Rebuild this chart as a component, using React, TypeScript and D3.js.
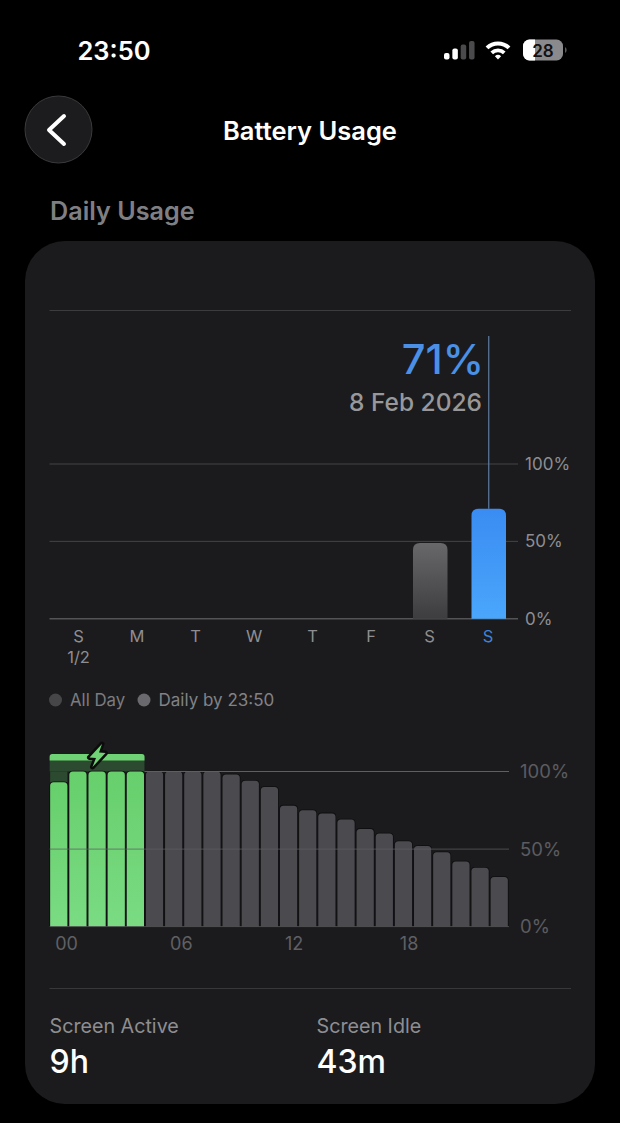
import React from "react";
import * as d3 from "d3";

const dayLabels = ["S", "M", "T", "W", "T", "F", "S", "S"];
const dayValues = [0, 0, 0, 0, 0, 0, 49, 71];
const hourValues = [93, 100, 100, 100, 100, 100, 100, 100, 100, 98, 94, 90, 78, 75, 73, 69, 63, 60, 55, 52, 48, 42, 38, 32];
const hourTicks = [0, 6, 12, 18];
const hourTickLabels = ["00", "06", "12", "18"];
const chargingHours = [0, 1, 2, 3, 4];
const percentTicks = [0, 50, 100];
const signalHeights = [6.5, 11, 15, 18.5];

const FONT = "Inter, 'Noto Sans', sans-serif";

function topRounded(x: number, y: number, w: number, h: number, r: number) {
  const p = d3.path();
  p.moveTo(x, y + h);
  p.lineTo(x, y + r);
  p.quadraticCurveTo(x, y, x + r, y);
  p.lineTo(x + w - r, y);
  p.quadraticCurveTo(x + w, y, x + w, y + r);
  p.lineTo(x + w, y + h);
  p.closePath();
  return p.toString();
}

export default function App() {
  const dayX = d3.scaleBand<number>().domain(d3.range(8)).range([50, 518]).paddingInner(0.41).paddingOuter(0.205);
  const dayY = d3.scaleLinear().domain([0, 100]).range([618.7, 464]);
  const hourX = d3.scaleBand<number>().domain(d3.range(24)).range([49.2, 508.8]).paddingInner(0.1).paddingOuter(0.05);
  const hourY = d3.scaleLinear().domain([0, 100]).range([926.7, 771.5]);
  const wifi = d3.arc();
  const chargeX0 = hourX(chargingHours[0])! - 0.5;
  const chargeX1 = hourX(chargingHours[chargingHours.length - 1])! + hourX.bandwidth() + 0.5;

  return (
    <svg width={620} height={1123} viewBox="0 0 620 1123" style={{ position: "fixed", left: 0, top: 0, fontFamily: FONT }}>
      <defs>
        <linearGradient id="blue" x1="0" y1="0" x2="0" y2="1">
          <stop offset="0" stopColor="#3a8cf2" />
          <stop offset="1" stopColor="#4aa6fb" />
        </linearGradient>
        <linearGradient id="gray" x1="0" y1="0" x2="0" y2="1">
          <stop offset="0" stopColor="#68686b" />
          <stop offset="1" stopColor="#3d3d40" />
        </linearGradient>
        <linearGradient id="green" x1="0" y1="0" x2="0" y2="1">
          <stop offset="0" stopColor="#67cf6c" />
          <stop offset="1" stopColor="#7adb83" />
        </linearGradient>
      </defs>
      <rect width={620} height={1123} fill="#000" />

      {/* status bar */}
      <text x={114} y={60} textAnchor="middle" fontSize={25.5} fontWeight={600} fill="#fff">23:50</text>
      {signalHeights.map((h, i) => (
        <rect key={i} x={444 + i * 8.35} y={59.5 - h} width={5.5} height={h} rx={2}
          fill={i < 2 ? "#fff" : "#4a4a4c"} />
      ))}
      <g transform="translate(498,59.5)" fill="#fff">
        {[[0, 4.5], [7.2, 11], [14, 18]].map(([a, b]) => (
          <path key={a} d={wifi({ innerRadius: a, outerRadius: b, startAngle: -0.76, endAngle: 0.76 } as any) as string} />
        ))}
      </g>
      <rect x={523} y={39.5} width={40} height={21} rx={6.5} fill="#8a8a8c" />
      <path d="M529.5 39.5 H535 V60.5 H529.5 A6.5 6.5 0 0 1 523 54 V46 A6.5 6.5 0 0 1 529.5 39.5 Z" fill="#fff" />
      <path d="M565 47 A3.5 3.5 0 0 1 565 53 Z" fill="#5a5a5c" />
      <text x={543} y={56.5} textAnchor="middle" fontSize={17} fontWeight={600} fill="#111">28</text>

      {/* nav */}
      <circle cx={58.5} cy={129.5} r={33.5} fill="#1c1c1e" stroke="#3a3a3c" strokeWidth={1} />
      <path d="M64 116 L49 130 L64 144" fill="none" stroke="#fff" strokeWidth={4} strokeLinecap="round" strokeLinejoin="round" />
      <text x={310} y={140} textAnchor="middle" fontSize={25.5} fontWeight={600} fill="#fff">Battery Usage</text>
      <text x={50} y={220} fontSize={25.2} fontWeight={600} fill="#7f7f83">Daily Usage</text>

      {/* card */}
      <rect x={25} y={241} width={570} height={863} rx={40} fill="#1b1b1d" />

      {/* daily chart */}
      <line x1={49.5} x2={571} y1={310.5} y2={310.5} stroke="#3c3c3f" />
      {percentTicks.map((t) => (
        <g key={t}>
          <line x1={49.5} x2={518} y1={dayY(t)} y2={dayY(t)} stroke={t === 0 ? "#545457" : "#454548"} strokeWidth={t === 0 ? 1.5 : 1} />
          <text x={525} y={dayY(t) + 6} fontSize={17} fill="#8e8e92">{t}%</text>
        </g>
      ))}
      <line x1={dayX(7)! + dayX.bandwidth() / 2} x2={dayX(7)! + dayX.bandwidth() / 2} y1={336} y2={dayY(71)} stroke="#5f7c9f" strokeWidth={1.2} />
      {dayValues.map((v, i) =>
        v > 0 ? (
          <path key={i} d={topRounded(dayX(i)!, dayY(v), dayX.bandwidth(), dayY(0) - dayY(v), 7)} fill={i === 7 ? "url(#blue)" : "url(#gray)"} />
        ) : null
      )}
      {dayLabels.map((d, i) => (
        <text key={i} x={dayX(i)! + dayX.bandwidth() / 2 - 0.7} y={642} textAnchor="middle" fontSize={16.5}
          fill={i === 7 ? "#3f82d6" : "#8e8e92"}>{d}</text>
      ))}
      <text x={dayX(0)! + dayX.bandwidth() / 2 - 0.7} y={663} textAnchor="middle" fontSize={16.5} fill="#8e8e92">1/2</text>
      <text x={484} y={374} textAnchor="end" fontSize={41.5} fontWeight={500} fill="#4a90e6">71%</text>
      <text x={482} y={411} textAnchor="end" fontSize={24.5} fontWeight={500} fill="#98989b">8 Feb 2026</text>

      {/* legend */}
      <circle cx={55.5} cy={700} r={6.5} fill="#464649" />
      <text x={70} y={706} fontSize={16.8} fill="#7c7c80">All Day</text>
      <circle cx={144} cy={700} r={6.5} fill="#6a6a6e" />
      <text x={158.5} y={706} fontSize={17} fill="#828286">Daily by 23:50</text>

      {/* hourly chart */}
      <rect x={chargeX0} y={757} width={chargeX1 - chargeX0} height={hourY(100) - 757} fill="#2c4a2f" />
      <rect x={hourX(0)!} y={hourY(100)} width={hourX.bandwidth()} height={hourY(hourValues[0]) - hourY(100)} fill="#2c4a2f" />
      {hourValues.map((v, i) => (
        <path key={i} d={topRounded(hourX(i)!, hourY(v), hourX.bandwidth(), hourY(0) - hourY(v), 3.5)}
          fill={chargingHours.includes(i) ? "url(#green)" : "#4b4a4f"} stroke="#0f0f11" strokeWidth={1.6} paintOrder="stroke" />
      ))}
      {percentTicks.map((t) => (
        <g key={t}>
          <line x1={t === 100 ? chargeX1 : 49.5} x2={509} y1={hourY(t)} y2={hourY(t)} stroke={t === 0 ? "#505053" : "#5f5f62"} strokeOpacity={t === 50 ? 0.75 : 1} strokeWidth={1} />
          <text x={520} y={hourY(t) + 6.5} fontSize={18.5} fill="#5c5c60">{t}%</text>
        </g>
      ))}
      <path d={topRounded(chargeX0, 754, chargeX1 - chargeX0, 6.5, 2.5)} fill="#6fd275" />
      <path d="M102 744 L89.5 757.5 L96 758 L92.5 767 L105.5 753 L99 752.5 Z" fill="#6fd275" stroke="#0c0c0c" strokeWidth={5} strokeLinejoin="round" paintOrder="stroke" />
      {hourTicks.map((h, i) => (
        <text key={h} x={hourX(h)! + 5} y={950} fontSize={18} fill="#606064">{hourTickLabels[i]}</text>
      ))}

      {/* footer */}
      <line x1={49.5} x2={571} y1={988.5} y2={988.5} stroke="#38383a" />
      <text x={49.5} y={1033} fontSize={19.7} fill="#8e8e92">Screen Active</text>
      <text x={316.5} y={1033} fontSize={19.7} fill="#8e8e92">Screen Idle</text>
      <text x={49.5} y={1073} fontSize={32} fontWeight={500} fill="#fff">9h</text>
      <text x={316.5} y={1073} fontSize={32} fontWeight={500} fill="#fff">43m</text>
    </svg>
  );
}
